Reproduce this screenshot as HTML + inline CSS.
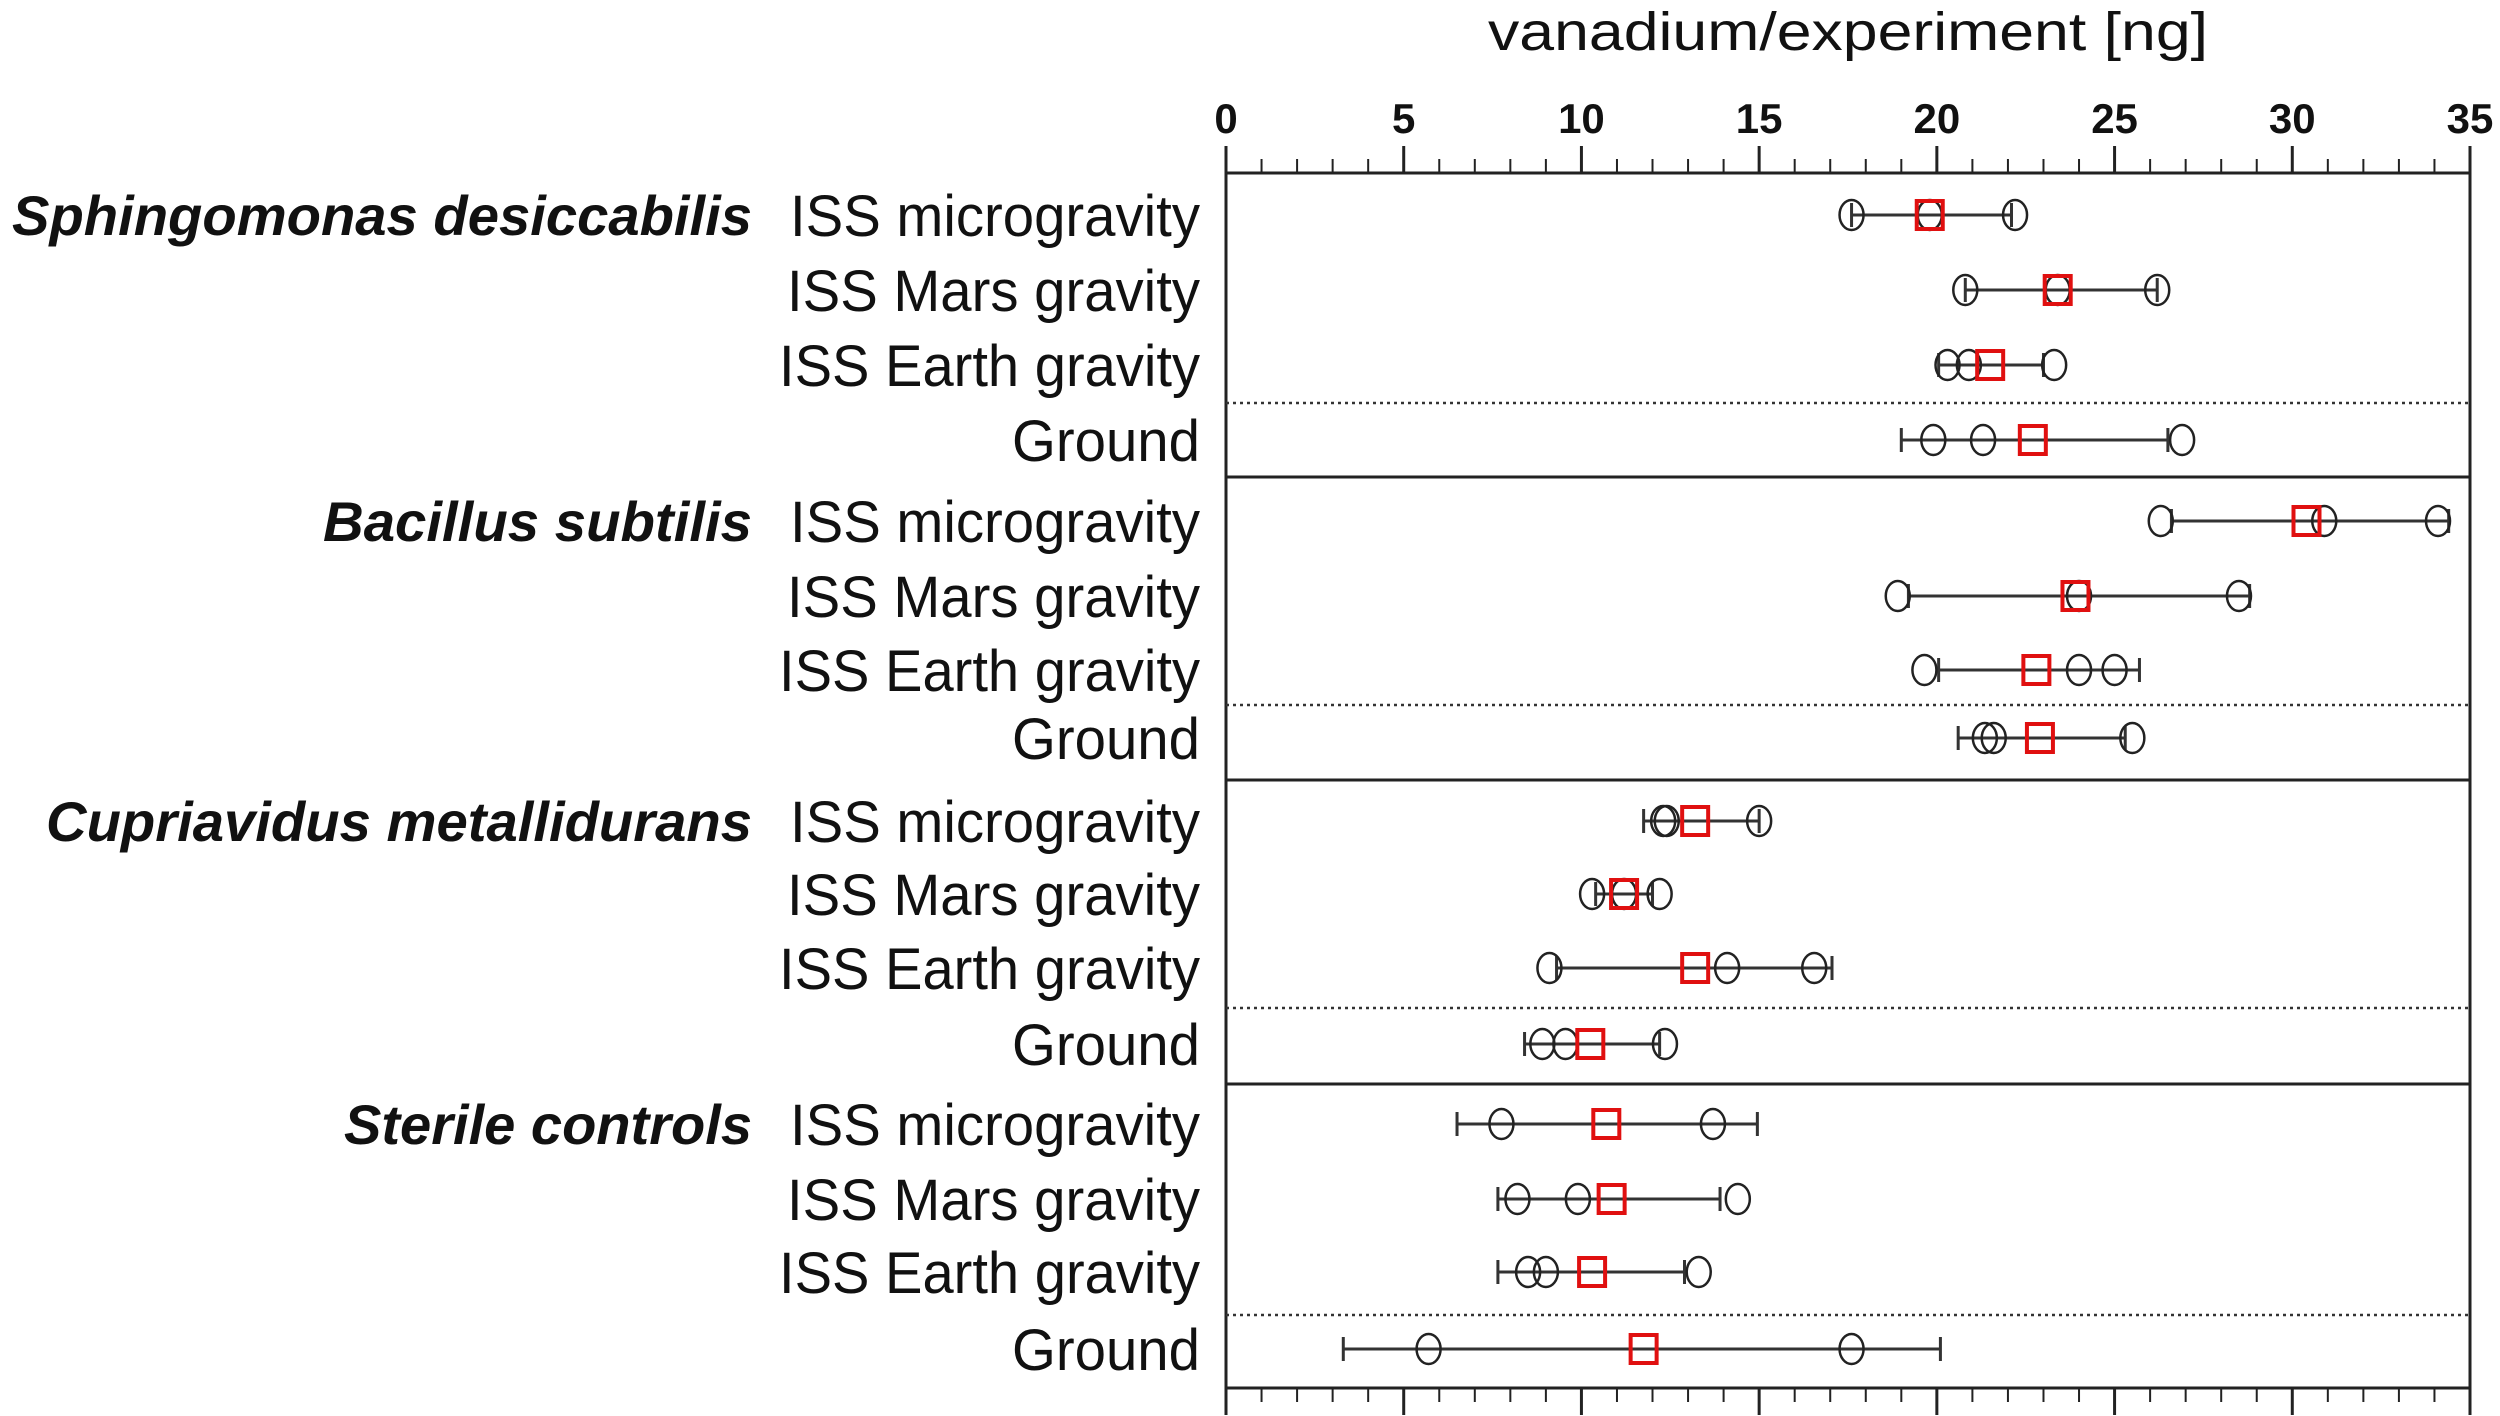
<!DOCTYPE html>
<html><head><meta charset="utf-8"><style>html,body{margin:0;padding:0;background:#fff}svg{display:block}</style></head>
<body>
<svg id="chart" width="2500" height="1416" xmlns="http://www.w3.org/2000/svg" font-family="Liberation Sans, sans-serif">
<g id="g"></g>
</svg>
<script>
const species=["Sphingomonas desiccabilis","Bacillus subtilis","Cupriavidus metallidurans","Sterile controls"];
const speciesWidths=[740,429,706,408];
const conditions=["ISS microgravity","ISS Mars gravity","ISS Earth gravity","Ground"];
const points=[
 [[17.6,19.8,22.2],[20.8,23.4,26.2],[20.3,20.9,23.3],[19.9,21.3,26.9]],
 [[26.3,30.9,34.1],[18.9,24.0,28.5],[19.65,24.0,25.0],[21.35,21.6,25.5]],
 [[12.3,12.4,15.0],[10.3,11.2,12.2],[9.1,14.1,16.55],[8.9,9.55,12.35]],
 [[7.75,13.7],[8.2,9.9,14.4],[8.5,9.0,13.3],[5.7,17.6]]
];
const means=[[19.8,23.4,21.5,22.7],[30.4,23.9,22.8,22.9],[13.2,11.2,13.2,10.25],[10.7,10.85,10.3,11.75]];
const errLow=[[17.6,20.8,20.05,19.0],[26.6,19.2,20.05,20.6],[11.75,10.4,9.3,8.4],[6.5,7.65,7.65,3.3]];
const errHigh=[[22.1,26.2,23.0,26.5],[34.4,28.8,25.7,25.3],[15.0,12.0,17.05,12.2],[14.95,13.9,12.9,20.1]];
const tickLabels=[0,5,10,15,20,25,30,35];

const NS="http://www.w3.org/2000/svg";
const g=document.getElementById('g');
const X0=1226,X1=2470,TOP=173,BOT=1388;
const xs=v=>X0+(v/35)*(X1-X0);
const rowY=[[215,290,365,440],[521,596,670,738],[821,894,968,1044],[1124,1199,1272,1349]];
const dotY=[403,705,1008,1315];
const solidY=[477,780,1084];
const condW=[410,413,421,188];
function el(t,a,p){const e=document.createElementNS(NS,t);for(const k in a)e.setAttribute(k,a[k]);(p||g).appendChild(e);return e;}

// title
let t=el('text',{x:1488,y:50,'font-size':54,textLength:720,lengthAdjust:'spacingAndGlyphs',fill:'#111'});
t.textContent='vanadium/experiment [ng]';



// frame
let fr=el('rect',{x:X0,y:TOP,width:X1-X0,height:BOT-TOP,fill:'none',stroke:'#222','stroke-width':3});



// ticks
for(let v=0;v<=35;v++){
  const major=v%5===0;const x=xs(v);
  let a=el('line',{x1:x,x2:x,y1:TOP,y2:TOP-(major?27:14),stroke:'#222','stroke-width':major?3:2});
  
  
  let b=el('line',{x1:x,x2:x,y1:BOT,y2:BOT+(major?27:14),stroke:'#222','stroke-width':major?3:2});
  
  
}
tickLabels.forEach(v=>{
  let l=el('text',{x:xs(v),y:133,'font-size':42,'font-weight':'bold','text-anchor':'middle',fill:'#111'});
  l.textContent=v;
  
  
});

// separators
solidY.forEach(y=>{let l=el('line',{x1:X0,x2:X1,y1:y,y2:y,stroke:'#222','stroke-width':3});
  
  });
dotY.forEach(y=>{let l=el('line',{x1:X0,x2:X1,y1:y,y2:y,stroke:'#333','stroke-width':2.5,'stroke-dasharray':'3 4'});
  
  });

species.forEach((s,i)=>{
  let st=el('text',{x:752-speciesWidths[i],y:rowY[i][0]+20,'font-size':56,'font-weight':'bold','font-style':'italic',textLength:speciesWidths[i],lengthAdjust:'spacingAndGlyphs',fill:'#111'});
  st.textContent=s;
  
  
  conditions.forEach((c,j)=>{
    const y=rowY[i][j];
    let ct=el('text',{x:1200-condW[j],y:y+21,'font-size':58,textLength:condW[j],lengthAdjust:'spacingAndGlyphs',fill:'#111'});
    ct.textContent=c;
    
    
    const lo=xs(errLow[i][j]),hi=xs(errHigh[i][j]);
    let eb=el('path',{d:`M${lo} ${y}H${hi}M${lo} ${y-12}V${y+12}M${hi} ${y-12}V${y+12}`,stroke:'#333','stroke-width':3,fill:'none'});
    
    
    points[i][j].forEach(v=>{
      let c2=el('ellipse',{cx:xs(v),cy:y,rx:12,ry:15,fill:'none',stroke:'#222','stroke-width':2.5});
      
      
    });
    let sq=el('rect',{x:xs(means[i][j])-13,y:y-14,width:26,height:28,fill:'none',stroke:'#e01010','stroke-width':4});
    
    
  });
});
</script>
</body></html>
